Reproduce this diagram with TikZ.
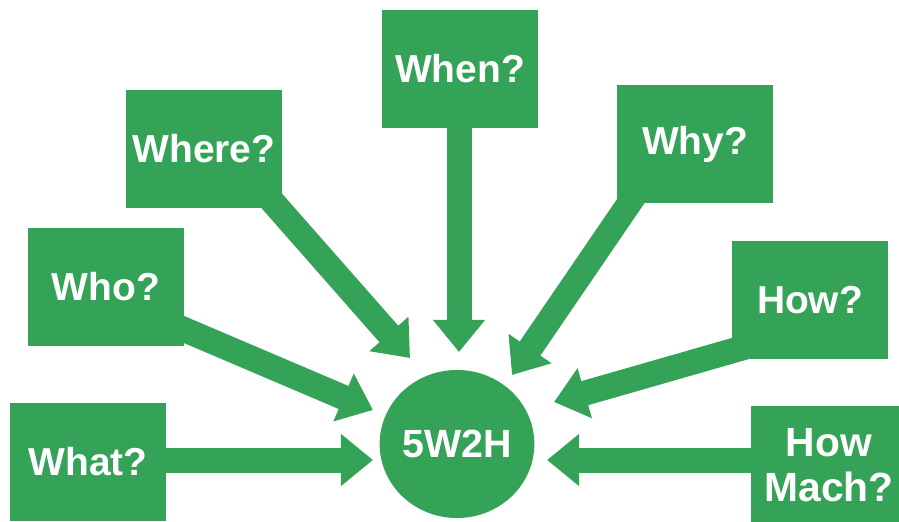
\documentclass[tikz,border=0pt]{standalone}
\usepackage{fontspec}
\setmainfont{Liberation Sans}
\usetikzlibrary{arrows.meta,shapes.geometric,backgrounds}
\definecolor{leaf}{RGB}{52,163,87}
\tikzset{
	qbox/.style={fill=leaf, text=white, font=\bfseries\fontsize{27.7}{31}\selectfont, minimum width=3.9cm, minimum height=2.95cm, inner sep=0pt, align=center},
	hub/.style={ellipse, fill=leaf, text=white, font=\bfseries\fontsize{28}{31}\selectfont, minimum width=3.5cm, minimum height=3.7cm, inner sep=0pt},
	flow/.style={draw=leaf, line width=0.625cm, -{Triangle[width=1.25cm, length=0.8cm]}}
}
\begin{document}
\begin{tikzpicture}[x=0.025cm, y=0.025cm]
	\useasboundingbox (0,0) rectangle (899,521);
	% question boxes
	\node[qbox] (when) at (460,452) {When?};
	\node[qbox] (where) at (204,372) {Where?};
	\node[qbox] (who) at (106,234) {Who?};
	\node[qbox] (what) at (88,59) {What?};
	\node[qbox] (why) at (695,377) {Why?};
	\node[qbox] (how) at (810,221) {How?};
	\node[qbox, font=\bfseries\fontsize{29}{32}\selectfont] (mach) at (829,56) {How\\Mach?};
	\node[hub] (hub) at (457,77) {\raisebox{-3pt}{5W2H}};
	% arrow tips
	\coordinate (tWhen) at (459,169);
	\coordinate (tWhere) at (410,163);
	\coordinate (tWho) at (373,111);
	\coordinate (tWhat) at (373,61);
	\coordinate (tWhy) at (512,146);
	\coordinate (tHow) at (554,119);
	\coordinate (tMach) at (547,61);
	\begin{scope}[on background layer]
		\draw[flow] ([shift={(-1,-30)}]when.center) -- (tWhen);
		\draw[flow] ([shift={(45,-26)}]where.center) -- (tWhere);
		\draw[flow] ([shift={(44,-28)}]who.center) -- (tWho);
		\draw[flow] ([shift={(52,2)}]what.center) -- (tWhat);
		\draw[flow] ([shift={(-43,-26)}]why.center) -- (tWhy);
		\draw[flow] ([shift={(-40,-40)}]how.center) -- (tHow);
		\draw[flow] ([shift={(-39,5)}]mach.center) -- (tMach);
	\end{scope}
\end{tikzpicture}
\end{document}
